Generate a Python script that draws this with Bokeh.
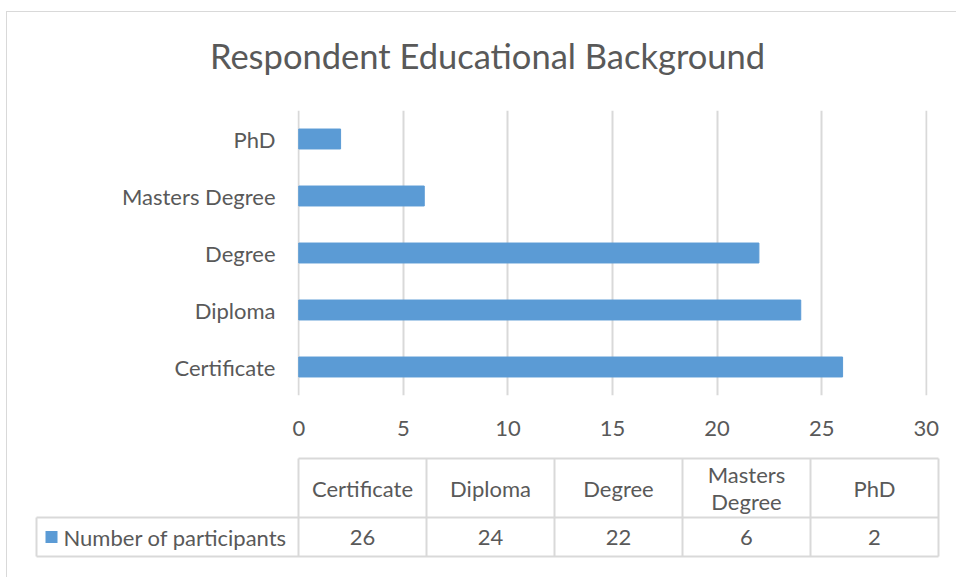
from bokeh.plotting import figure
from bokeh.layouts import column
from bokeh.models import Range1d, FactorRange, FixedTicker
from bokeh.core.properties import value
from bokeh.embed import file_html
from bokeh.resources import INLINE

# ---- data ----
title_text = "Respondent Educational Background"
categories = ["Certificate", "Diploma", "Degree", "Masters Degree", "PhD"]
participants = [26, 24, 22, 6, 2]
series_name = "Number of participants"
x_ticks = [0, 5, 10, 15, 20, 25, 30]
x_max = 30

# ---- style ----
FONT = "Lato"
TXT = "#595959"
GRID = "#D9D9D9"
BAR = "#5B9BD5"
LBL = "22px"
W = 949


def blank(h):
    f = figure(width=W, height=h, x_range=Range1d(0, W), y_range=Range1d(h, 0),
               output_backend="svg", toolbar_location=None, min_border=0,
               x_axis_location=None, y_axis_location=None, frame_align=False)
    f.grid.visible = False
    f.outline_line_color = None
    return f


# ---- title ----
TH = 88
t = blank(TH)
t.text(x=[480], y=[43], text=[title_text], text_font=value(FONT),
       text_font_size="34.5px", text_color=TXT, text_align="center",
       text_baseline="middle")

# ---- chart ----
pad = 0.06  # tiny padding so the gridlines at 0 and 30 are drawn
p = figure(width=W, height=352, y_range=FactorRange(*categories),
           x_range=Range1d(-pad, x_max + pad), output_backend="svg",
           toolbar_location=None,
           min_border_left=290, min_border_right=29, min_border_top=10,
           min_border_bottom=57, frame_align=False)
p.outline_line_color = None
p.hbar(y=categories, left=0, right=participants, height=0.35, color=BAR)
p.xaxis.ticker = FixedTicker(ticks=x_ticks)
for ax in (p.xaxis[0], p.yaxis[0]):
    ax.axis_line_color = None
    ax.major_tick_line_color = None
    ax.minor_tick_line_color = None
    ax.major_tick_out = 0
    ax.major_tick_in = 0
    ax.major_label_text_font = FONT
    ax.major_label_text_font_size = LBL
    ax.major_label_text_color = TXT
p.xaxis.major_label_standoff = 25
p.yaxis.major_label_standoff = 22
p.xgrid.grid_line_color = GRID
p.xgrid.grid_line_width = 2
p.ygrid.grid_line_color = None

# ---- data table ----
HH = 125
tb = blank(HH)
n = len(categories)
col0, colw, leg_left = 291, 128, 29
y_top, y_mid, y_bot = 6, 65, 104
col_edges = [col0 + i * colw for i in range(n + 1)]
x_end = col_edges[-1]

x0s = [col0, leg_left, leg_left] + col_edges + [leg_left]
x1s = [x_end, x_end, x_end] + col_edges + [leg_left]
y0s = [y_top, y_mid, y_bot] + [y_top] * (n + 1) + [y_mid]
y1s = [y_top, y_mid, y_bot] + [y_bot] * (n + 1) + [y_bot]
tb.segment(x0=x0s, y0=y0s, x1=x1s, y1=y1s, line_color=GRID, line_width=2)

centers = [col0 + colw / 2 + i * colw for i in range(n)]
header = [c.replace("Masters Degree", "Masters\nDegree") for c in categories]
tb.text(x=centers, y=[(y_top + y_mid) / 2] * n, text=header,
        text_font=value(FONT), text_font_size=LBL, text_color=TXT,
        text_align="center", text_baseline="middle", text_line_height=1.0)
tb.text(x=centers, y=[(y_mid + y_bot) / 2] * n, text=[str(v) for v in participants],
        text_font=value(FONT), text_font_size=LBL, text_color=TXT,
        text_align="center", text_baseline="middle")
tb.scatter(x=[44], y=[(y_mid + y_bot) / 2], marker="square", size=12,
           color=BAR, line_color=None)
tb.text(x=[56], y=[(y_mid + y_bot) / 2], text=[series_name],
        text_font=value(FONT), text_font_size=LBL, text_color=TXT,
        text_align="left", text_baseline="middle")

layout = column(t, p, tb, spacing=0,
                styles={"border-top": "1px solid #D9D9D9",
                        "border-left": "1px solid #D9D9D9",
                        "margin-left": "6px", "margin-top": "11px"})

open("out.html", "w").write(file_html(layout, INLINE))
